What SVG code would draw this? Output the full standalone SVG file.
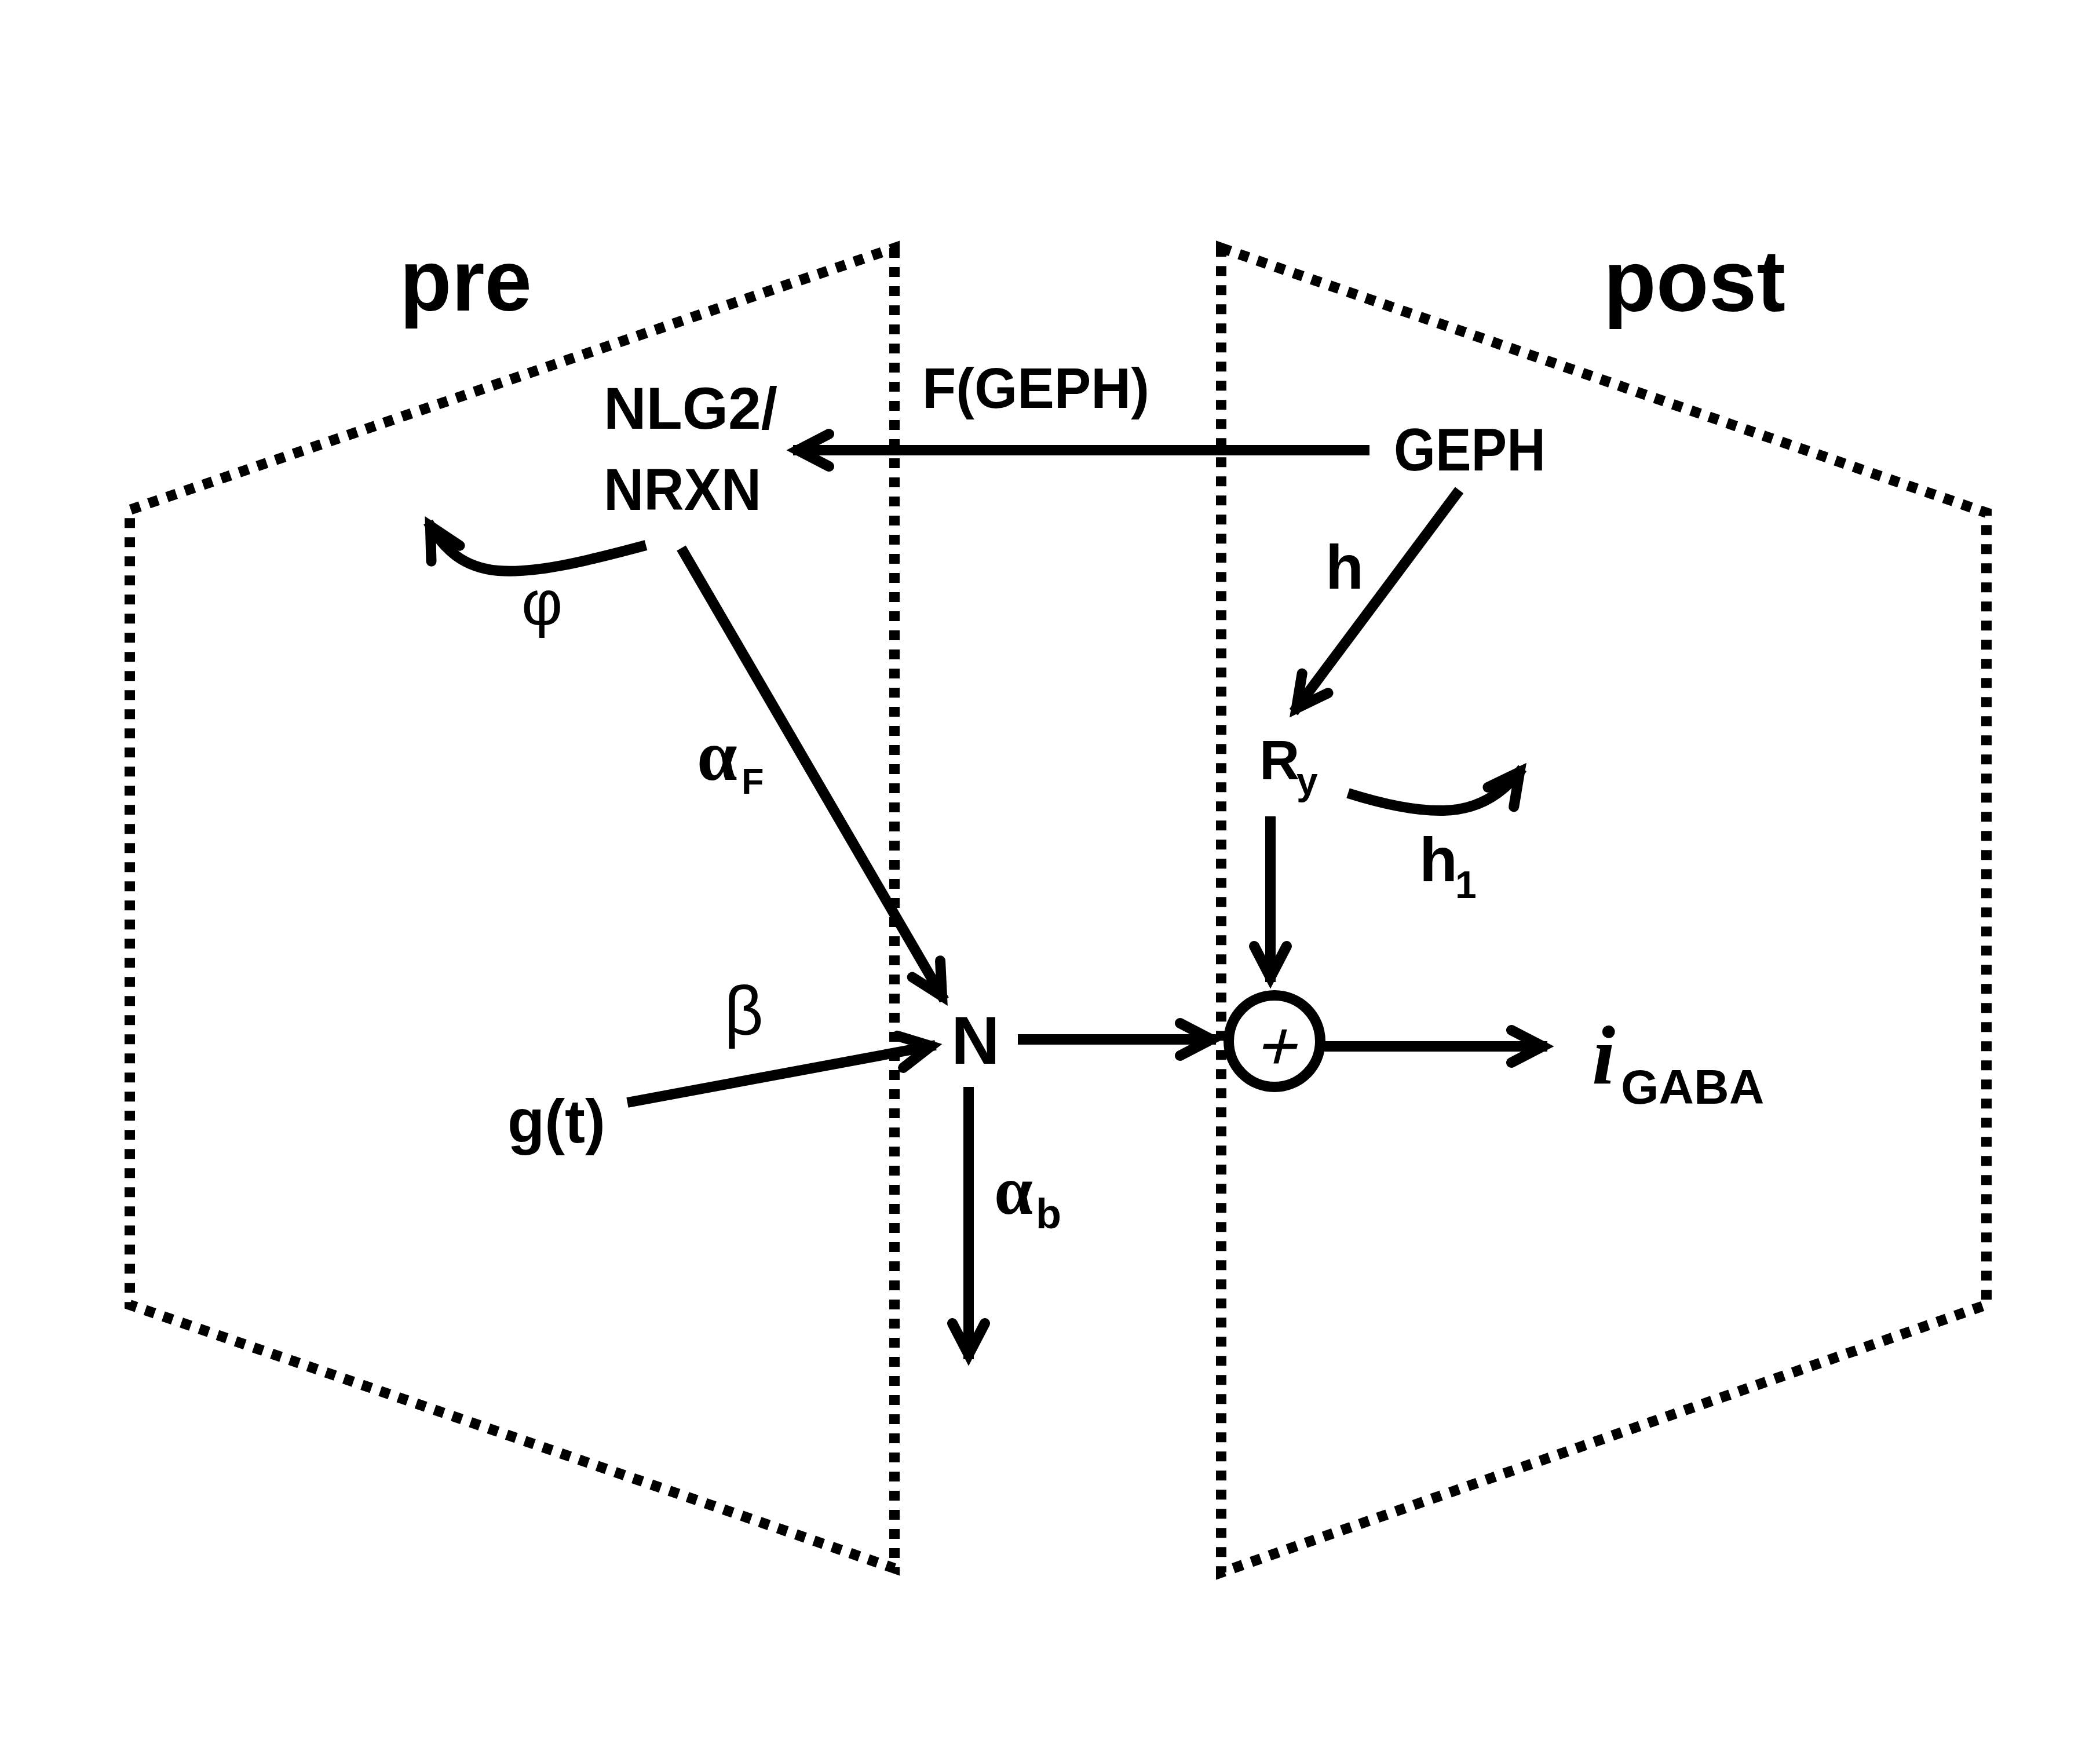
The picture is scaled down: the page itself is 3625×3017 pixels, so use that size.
<svg xmlns="http://www.w3.org/2000/svg" width="3625" height="3017" viewBox="0 0 3625 3017">
<style>
.lbl{font-family:"Liberation Sans",Arial,sans-serif;font-weight:bold;fill:#000}
.reg{font-family:"Liberation Sans",Arial,sans-serif;font-weight:normal;fill:#000}
.grk{font-family:"Liberation Serif","Times New Roman",serif;font-weight:bold;fill:#000}
.dash{fill:none;stroke:#000;stroke-width:18;stroke-dasharray:17 16;stroke-linejoin:miter}
.arr{fill:none;stroke:#000;stroke-width:18;stroke-linecap:butt;marker-end:url(#ah)}
</style>
<defs>
<marker id="ah" markerUnits="userSpaceOnUse" orient="auto" refX="0" refY="0" markerWidth="200" markerHeight="200" viewBox="-100 -100 200 200" overflow="visible">
<path d="M -62 -28 L -8 0 L -62 28" fill="none" stroke="#000" stroke-width="18" stroke-linecap="round" stroke-linejoin="miter" stroke-miterlimit="10"/>
</marker>
</defs>
<rect width="3625" height="3017" fill="#fff"/>
<g id="compartments">
<path id="pre-compartment" class="dash" d="M 1544 428 L 1544 2707 L 224 2252 L 224 880 Z"/>
<path id="post-compartment" class="dash" d="M 2108 428 L 3429 885 L 3429 2252 L 2108 2714 Z"/>
</g>
<g id="connectors">
<path class="arr" d="M 2364 777 L 1369 777"/>
<path class="arr" d="M 2519 846 L 2233 1229"/>
<path class="arr" d="M 2327 1369 C 2400 1392, 2450 1400, 2492 1399 C 2550 1398, 2595 1370, 2628 1326"/>
<path class="arr" d="M 1115 941 C 1000 972, 920 990, 860 985 C 800 980, 765 948, 739 901"/>
<path class="arr" d="M 1176 946 L 1630 1726"/>
<path class="arr" d="M 1083 1903 L 1615 1804"/>
<path class="arr" d="M 1757 1794 L 2099 1794"/>
<path class="arr" d="M 2193 1409 L 2193 1695"/>
<path class="arr" d="M 2286 1806 L 2671 1806"/>
<path class="arr" d="M 1672 1876 L 1672 2346"/>
</g>
<g id="label-pre"><text class="lbl" x="690" y="536" font-size="150" textLength="228" lengthAdjust="spacingAndGlyphs">pre</text></g>
<g id="label-post"><text class="lbl" x="2768" y="537" font-size="150" textLength="314" lengthAdjust="spacingAndGlyphs">post</text></g>
<g id="node-nlg2"><text class="lbl" x="1042" y="740" font-size="102" textLength="300" lengthAdjust="spacingAndGlyphs">NLG2/</text>
<text class="lbl" x="1042" y="880" font-size="102" textLength="272" lengthAdjust="spacingAndGlyphs">NRXN</text></g>
<g id="label-fgeph"><text class="lbl" x="1592" y="704" font-size="98" textLength="392" lengthAdjust="spacingAndGlyphs">F(GEPH)</text></g>
<g id="node-geph"><text class="lbl" x="2406" y="812" font-size="103" textLength="262" lengthAdjust="spacingAndGlyphs">GEPH</text></g>
<g id="label-h"><text class="lbl" x="2288" y="1016" font-size="108">h</text></g>
<g id="node-ry"><text class="lbl" x="2174" y="1345" font-size="96">R<tspan x="2238" y="1371" font-size="66">y</tspan></text></g>
<g id="label-h1"><text class="lbl" x="2450" y="1521" font-size="108">h<tspan x="2512" y="1550" font-size="66">1</tspan></text></g>
<g id="label-phi"><text class="reg" x="900" y="1078" font-size="110">φ</text></g>
<g id="label-alphaF"><text class="grk" x="1203" y="1346" font-size="125">α<tspan class="lbl" x="1280" y="1370" font-size="63">F</tspan></text></g>
<g id="label-beta"><text class="reg" x="1250" y="1785" font-size="118">β</text></g>
<g id="node-g"><text class="lbl" x="876" y="1972" font-size="105">g(t)</text></g>
<g id="node-n"><text class="lbl" x="1642" y="1836" font-size="116">N</text></g>
<g id="label-alphab"><text class="grk" x="1716" y="2095" font-size="120">α<tspan class="lbl" x="1788" y="2120" font-size="72">b</tspan></text></g>
<g id="node-sum"><circle cx="2200" cy="1797" r="79" fill="none" stroke="#000" stroke-width="18"/>
<text class="reg" x="0" y="0" font-size="120" text-anchor="middle" transform="translate(2200 1846) skewX(-14)">+</text></g>
<g id="node-igaba"><text class="grk" x="2748" y="1870" font-size="145" font-style="italic">i<tspan class="lbl" x="2798" y="1905" font-size="84" font-style="normal">GABA</tspan></text></g>
</svg>
